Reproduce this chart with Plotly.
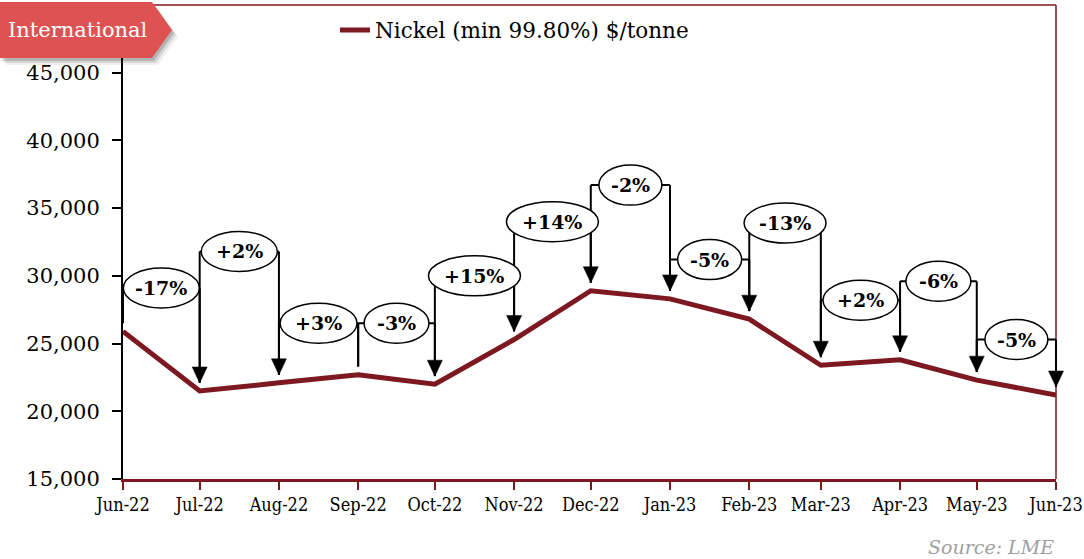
import plotly.graph_objects as go
import pandas as pd

# ---------------- data ----------------
months = ["2022-06-01", "2022-07-01", "2022-08-01", "2022-09-01", "2022-10-01",
          "2022-11-01", "2022-12-01", "2023-01-01", "2023-02-01", "2023-03-01",
          "2023-04-01", "2023-05-01", "2023-06-01"]
prices = [25900, 21500, 22100, 22700, 22000, 25300, 28900, 28300, 26800,
          23400, 23800, 22300, 21200]
change_labels = ["-17%", "+2%", "+3%", "-3%", "+15%", "+14%", "-2%", "-5%",
                 "-13%", "+2%", "-6%", "-5%"]
bubble_levels = [29100, 31800, 26500, 26500, 30000, 34000, 36700, 31200,
                 33900, 28200, 29600, 25300]
series_name = "Nickel (min 99.80%) $/tonne"
y_ticks = [15000, 20000, 25000, 30000, 35000, 40000, 45000, 50000]

# ---------------- style ----------------
bubble_widths = [76, 76, 77, 65, 92, 92, 63, 64, 82, 75, 65, 63]
bubble_height = 40
arrow_on = [False, True, True, False, True, True, True, True, True, True, True, True, True]
LINE_RED = "#7D1820"
BADGE_RED = "#DE5254"
SERIF = "DejaVu Serif"
gap = 600  # data units between bracket end and the line

dates = pd.to_datetime(months)
span = (dates[-1] - dates[0]).total_seconds()


def xfrac(d):
    # position along the date axis as a fraction of the plot width
    return (d - dates[0]).total_seconds() / span


fig = go.Figure()
fig.add_trace(go.Scatter(
    x=dates, y=prices, mode="lines", name=series_name,
    line=dict(color=LINE_RED, width=5),
    hoverinfo="skip", showlegend=True))

annotations = []
lines_sh, tri_sh, ell_sh = [], [], []
for i, lab in enumerate(change_labels):
    xa, xb = xfrac(dates[i]), xfrac(dates[i + 1])
    lvl = bubble_levels[i]
    mid = (xa + xb) / 2
    lines_sh.append(dict(type="line", xref="paper", yref="y", x0=xa, x1=xb, y0=lvl, y1=lvl,
                         line=dict(color="black", width=2), layer="above"))
    lines_sh.append(dict(type="line", xref="paper", yref="y", x0=xa, x1=xa, y0=lvl,
                         y1=prices[i] + gap, line=dict(color="black", width=2), layer="above"))
    lines_sh.append(dict(type="line", xref="paper", yref="y", x0=xb, x1=xb, y0=lvl,
                         y1=prices[i + 1] + gap, line=dict(color="black", width=2), layer="above"))
    if arrow_on[i + 1]:
        tri_sh.append(dict(type="path", xref="paper", yref="y", xsizemode="pixel", ysizemode="pixel",
                           xanchor=xb, yanchor=prices[i + 1],
                           path="M -7.5,24 L 7.5,24 L 0,8 Z",
                           fillcolor="black", line=dict(color="black", width=0.5), layer="above"))
    w = bubble_widths[i]
    ell_sh.append(dict(type="circle", xref="paper", yref="y", xsizemode="pixel", ysizemode="pixel",
                       xanchor=mid, yanchor=lvl, x0=-w / 2, x1=w / 2,
                       y0=-bubble_height / 2, y1=bubble_height / 2,
                       fillcolor="white", line=dict(color="black", width=1.5), layer="above"))
    annotations.append(dict(x=mid, y=lvl, xref="paper", yref="y", text="<b>%s</b>" % lab,
                            xanchor="center", yanchor="middle",
                            showarrow=False, font=dict(family=SERIF, size=19, color="black")))

frame = [
    dict(type="line", xref="paper", yref="paper", x0=0, x1=1, y0=1, y1=1,
         line=dict(color=LINE_RED, width=1.5), layer="above"),
    dict(type="line", xref="paper", yref="paper", x0=1, x1=1, y0=0, y1=1,
         line=dict(color=LINE_RED, width=1.5), layer="above"),
]

# badge with soft shadow
pts = [(-123, 3), (29, 3), (49, -25), (29, -53), (-123, -53)]
badge = []
for dx, dy, a in [(6, -7, 0.06), (4, -5, 0.10), (2, -3, 0.16)]:
    p = "M " + " L ".join("%d,%d" % (x + dx, y + dy) for x, y in pts) + " Z"
    badge.append(dict(type="path", xref="paper", yref="paper", xsizemode="pixel", ysizemode="pixel",
                      xanchor=0, yanchor=1, path=p, fillcolor="rgba(0,0,0,%s)" % a,
                      line=dict(width=0), layer="above"))
badge.append(dict(type="path", xref="paper", yref="paper", xsizemode="pixel", ysizemode="pixel",
                  xanchor=0, yanchor=1,
                  path="M " + " L ".join("%d,%d" % (x, y) for x, y in pts) + " Z",
                  fillcolor=BADGE_RED, line=dict(width=0), layer="above"))

shapes = frame + lines_sh + tri_sh + ell_sh + badge

annotations.append(dict(xref="paper", yref="paper", x=(78 - 123) / 933, y=1 - (30 - 5) / 474,
                        xanchor="center", yanchor="middle",
                        text="International", showarrow=False,
                        font=dict(family=SERIF, size=21, color="white")))
annotations.append(dict(xref="paper", yref="paper", x=1, y=1 - (547 - 5) / 474,
                        xanchor="right", yanchor="middle", text="<i>Source: LME</i>",
                        showarrow=False, font=dict(family=SERIF, size=19, color="#A0A0A0")))

fig.update_layout(
    width=1084, height=559,
    margin=dict(l=123, r=28, t=5, b=80, autoexpand=False),
    paper_bgcolor="white", plot_bgcolor="white",
    shapes=shapes, annotations=annotations,
    showlegend=True,
    legend=dict(orientation="h", x=(335 - 123) / 933, xanchor="left",
                y=1 - (30 - 5) / 474, yanchor="middle",
                font=dict(family=SERIF, size=21.5, color="black"),
                bgcolor="rgba(0,0,0,0)"),
    xaxis=dict(type="date", range=[dates[0], dates[-1]], tickvals=dates,
               tickformat="%b-%y", showgrid=False, zeroline=False, automargin=False,
               showline=True, linecolor=LINE_RED, linewidth=2.5,
               ticks="outside", ticklen=8, tickwidth=1.5, tickcolor=LINE_RED,
               tickfont=dict(family="DejaVu Serif Condensed, DejaVu Serif", size=18, color="black")),
    yaxis=dict(range=[15000, 50000], tickvals=y_ticks, tickformat=",d", automargin=False,
               showgrid=False, zeroline=False, showline=True, linecolor="black", linewidth=2,
               ticks="outside", ticklen=9, tickwidth=1.5, tickcolor="black",
               ticklabelstandoff=8,
               tickfont=dict(family=SERIF, size=21, color="black")),
)

fig.write_html("out.html")
